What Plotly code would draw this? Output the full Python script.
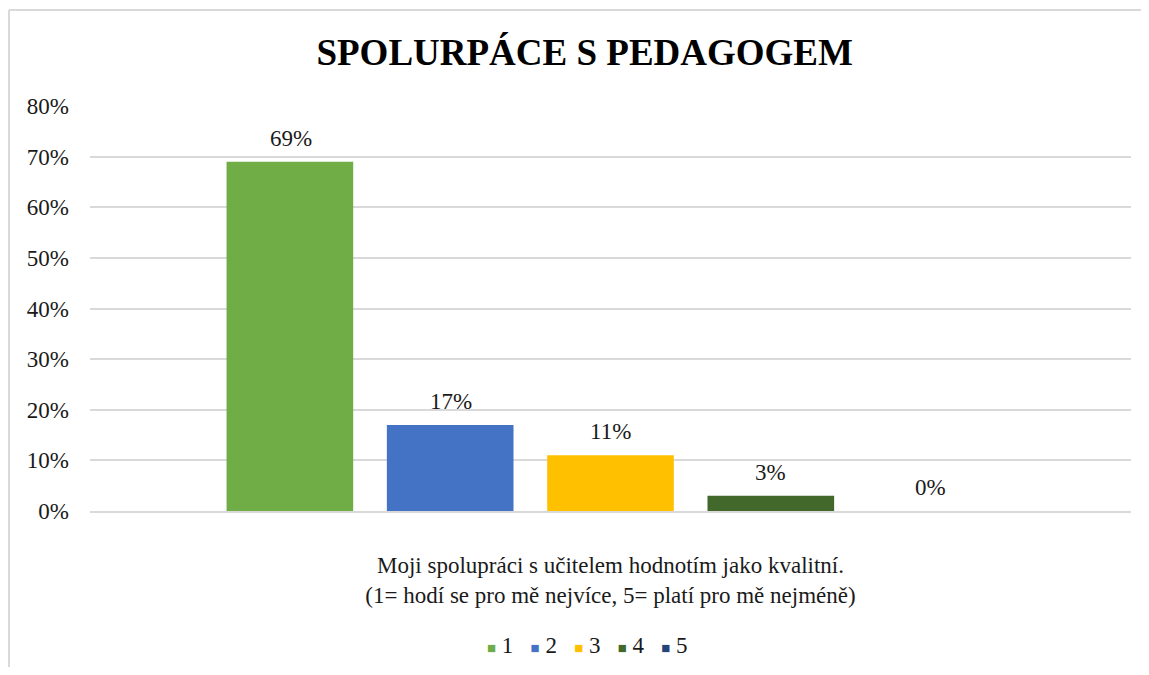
import plotly.graph_objects as go

# data
category = ["Moji spolupráci s učitelem hodnotím jako kvalitní."]
series_names = ["1", "2", "3", "4", "5"]
values = [0.69, 0.17, 0.11, 0.03, 0.0]
colors = ["#70AD47", "#4472C4", "#FFC000", "#43682B", "#264478"]

FONT = "Liberation Serif, Times New Roman, serif"
TXT = "#1a1a1a"
SLOT = 160  # px per bar slot inside the group

fig = go.Figure()
for i, (name, v, c) in enumerate(zip(series_names, values, colors)):
    fig.add_trace(go.Bar(
        x=category, y=[v], name=name,
        marker=dict(color=c, line=dict(width=0)),
    ))
    fig.add_annotation(x=category[0], y=v, xref="x", yref="y",
                       text=f"{v:.0%}", showarrow=False,
                       yanchor="bottom", yshift=9, xshift=(i - 2) * SLOT,
                       font=dict(family=FONT, size=23, color=TXT))

# compact Excel-like legend
legend_text = "&nbsp;&nbsp;&nbsp;".join(
    f"<span style='font-size:15px;color:{c}'>■</span> {n}"
    for n, c in zip(series_names, colors))
fig.add_annotation(x=0.478, y=-0.331, xref="paper", yref="paper",
                   text=legend_text, showarrow=False,
                   xanchor="center", yanchor="middle",
                   font=dict(family=FONT, size=23, color=TXT))

fig.update_layout(
    title=dict(text="<b>SPOLURPÁCE S PEDAGOGEM</b>", x=0.509, xanchor="center",
               y=0.933, yanchor="middle",
               font=dict(family=FONT, size=37, color="black")),
    width=1133, height=659,
    margin=dict(l=82, r=10, t=98, b=156),
    paper_bgcolor="white", plot_bgcolor="white",
    barmode="group", bargap=0.23, bargroupgap=0.21,
    showlegend=False,
    font=dict(family=FONT, color=TXT),
)
fig.update_xaxes(
    showticklabels=False, showgrid=False, zeroline=False,
    showline=True, linecolor="#d9d9d9", linewidth=2,
    title=dict(text="Moji spolupráci s učitelem hodnotím jako kvalitní.<br>(1= hodí se pro mě nejvíce, 5= platí pro mě nejméně)",
               font=dict(family=FONT, size=23, color=TXT), standoff=45),
)
fig.update_yaxes(
    range=[0, 0.8], dtick=0.1, tickformat=".0%",
    showgrid=True, gridcolor="#d9d9d9", gridwidth=2,
    zeroline=False, showline=False, ticks="",
    tickfont=dict(family=FONT, size=23, color=TXT),
    ticklabelstandoff=20,
)

# chart-area border (Excel style): only left and top edges are in view
border = dict(color="#d9d9d9", width=2)
fig.add_shape(type="line", xref="paper", yref="paper",
              x0=-0.0778, x1=-0.0778, y0=-0.5, y1=1.237, line=border, layer="below")
fig.add_shape(type="line", xref="paper", yref="paper",
              x0=-0.0778, x1=1.2, y0=1.237, y1=1.237, line=border, layer="below")

fig.write_html("out.html")
